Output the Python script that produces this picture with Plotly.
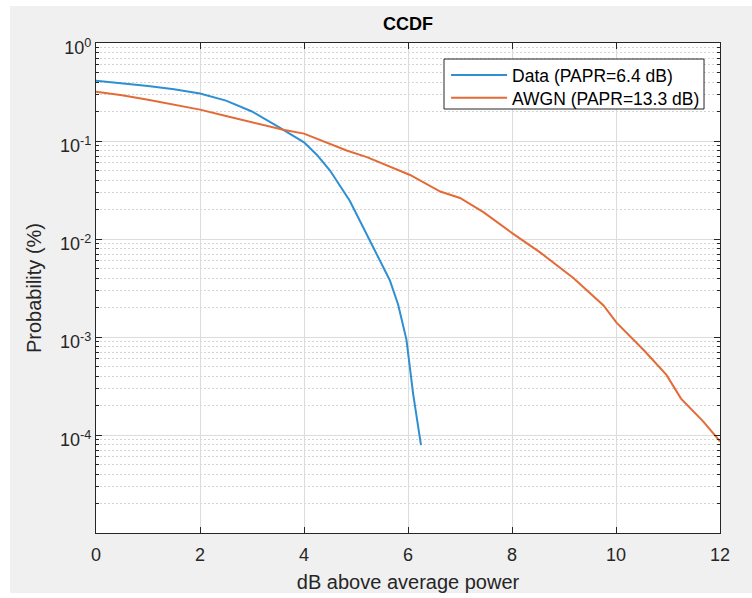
import plotly.graph_objects as go

# ---- data ----
data_x = [0.0, 0.5, 1.0, 1.5, 2.0, 2.5, 3.0, 3.5, 4.0, 4.25, 4.5, 4.88, 5.27, 5.65, 5.81, 5.97, 6.10, 6.25]
data_p = [0.411, 0.388, 0.365, 0.337, 0.305, 0.258, 0.200, 0.140, 0.097, 0.072, 0.050, 0.0246, 0.0096,
          0.0038, 0.00215, 0.00094, 0.00026, 0.000079]

awgn_x = [0.0, 0.5, 1.0, 1.5, 2.0, 2.5, 3.0, 3.6, 4.0, 4.82, 5.21, 6.04, 6.62, 7.0, 7.45, 8.03, 8.54,
          9.18, 9.76, 10.01, 10.55, 10.97, 11.25, 11.68, 12.0]
awgn_p = [0.318, 0.293, 0.263, 0.234, 0.209, 0.180, 0.156, 0.130, 0.119, 0.080, 0.0684, 0.045, 0.0305,
          0.0262, 0.0188, 0.0112, 0.0073, 0.0040, 0.0021, 0.0014, 0.00072, 0.00041, 0.000235,
          0.000137, 0.000086]

series_names = ["Data (PAPR=6.4 dB)", "AWGN (PAPR=13.3 dB)"]
series_colors = ["#2E8FD2", "#E36B37"]

x_ticks = [0, 2, 4, 6, 8, 10, 12]
y_tick_vals = [1e-4, 1e-3, 1e-2, 1e-1, 1]
y_tick_text = ["10<sup>-4</sup>", "10<sup>-3</sup>", "10<sup>-2</sup>", "10<sup>-1</sup>", "10<sup>0</sup>"]
y_minor_vals = [k * 10.0 ** e for e in range(-5, 0) for k in range(2, 10)]

FONT = "Liberation Sans, Arial, Helvetica, sans-serif"
AX = "#262626"

fig = go.Figure()
fig.add_trace(go.Scatter(x=data_x, y=data_p, mode="lines", name=series_names[0],
                         line=dict(color=series_colors[0], width=2), legend="legend"))
fig.add_trace(go.Scatter(x=awgn_x, y=awgn_p, mode="lines", name=series_names[1],
                         line=dict(color=series_colors[1], width=2), legend="legend2"))

leg_common = dict(xanchor="left", yanchor="top", bgcolor="rgba(0,0,0,0)", borderwidth=0,
                  font=dict(size=17.5, color="#000000", family=FONT), itemwidth=56)

fig.update_layout(
    width=752, height=598,
    margin=dict(l=96, r=32, t=43, b=65),
    paper_bgcolor="white", plot_bgcolor="white",
    font=dict(family=FONT, color=AX),
    title=dict(text="<b>CCDF</b>", x=0.5, xref="paper", xanchor="center",
               y=1 - 24 / 598, yref="container", yanchor="middle",
               font=dict(size=18, color="#000000", family=FONT)),
    showlegend=True,
    legend=dict(x=0.561, y=0.9714, **leg_common),
    legend2=dict(x=0.561, y=0.9245, **leg_common),
    shapes=[
        dict(type="rect", xref="paper", yref="paper", x0=-0.1378, x1=1.06, y0=-0.1224, y1=1.0755,
             fillcolor="#f0f0f0", line=dict(width=0), layer="below"),
        dict(type="rect", xref="paper", yref="paper", x0=0, x1=1, y0=0, y1=1,
             fillcolor="white", line=dict(width=0), layer="below"),
        dict(type="rect", xref="paper", yref="paper", x0=0.5577, x1=0.9744, y0=0.8653, y1=0.9673,
             fillcolor="white", line=dict(width=1, color=AX), layer="above"),
    ],
)

fig.update_xaxes(
    range=[0, 12], tickmode="array", tickvals=x_ticks,
    ticks="inside", ticklen=6, tickcolor=AX, tickwidth=1,
    showline=True, linecolor=AX, linewidth=1.2, mirror="ticks",
    showgrid=True, gridcolor="#dcdcdc", gridwidth=1, zeroline=False,
    tickfont=dict(size=18, color=AX, family=FONT), ticklabelstandoff=5,
    title=dict(text="dB above average power", font=dict(size=20, color=AX, family=FONT), standoff=11),
    automargin=False,
)

fig.update_yaxes(
    type="log", range=[-5, 0], tickmode="array", tickvals=y_tick_vals, ticktext=y_tick_text,
    ticks="inside", ticklen=6, tickcolor=AX, tickwidth=1,
    showline=True, linecolor=AX, linewidth=1.2, mirror="ticks",
    showgrid=True, gridcolor="#dcdcdc", gridwidth=1, zeroline=False,
    tickfont=dict(size=18, color=AX, family=FONT), ticklabelshift=5,
    title=dict(text="Probability (%)", font=dict(size=20, color=AX, family=FONT), standoff=13),
    automargin=False,
    minor=dict(tickmode="array", tickvals=y_minor_vals, ticks="inside", ticklen=3,
               tickcolor=AX, showgrid=True, gridcolor="#d4d4d4", griddash="2px,2px", gridwidth=1),
)

fig.write_html("out.html", config={"displayModeBar": False},
               post_script="document.body.style.margin='0px';")
